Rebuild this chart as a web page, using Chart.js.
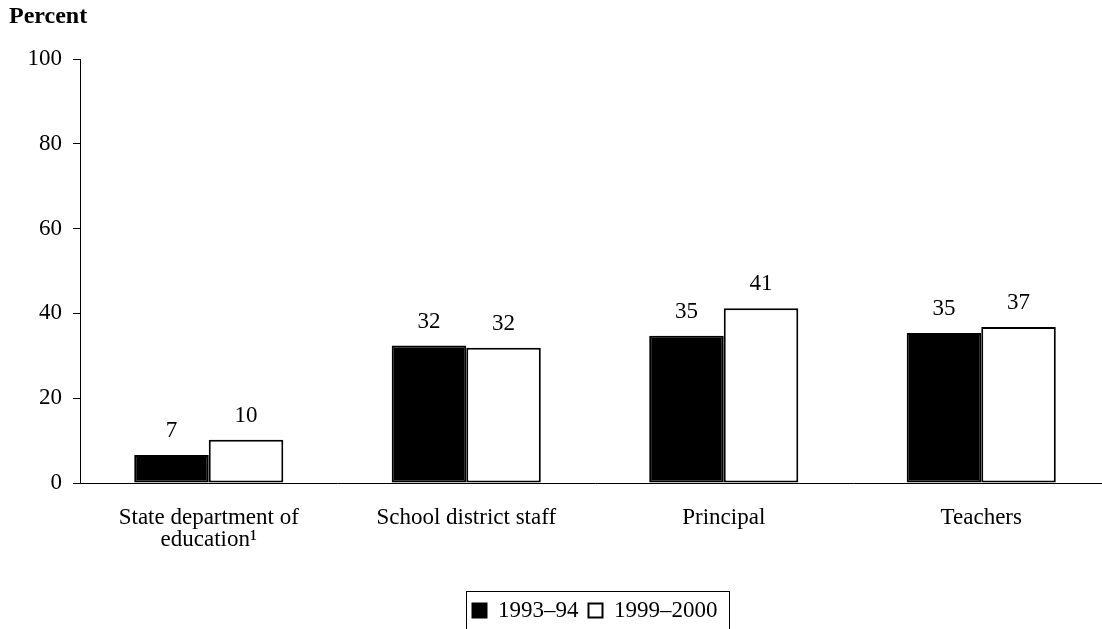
<!DOCTYPE html>
<html>
<head>
<meta charset="utf-8">
<script src="https://cdn.jsdelivr.net/npm/chart.js@4"></script>
<style>
  html, body { margin: 0; padding: 0; background: #fff; overflow: hidden; }
  #wrap { width: 1110px; height: 632px; position: relative; }
</style>
</head>
<body>
<div id="wrap"><canvas id="c"></canvas></div>
<script>
const categories = [['State department of', 'education\u00B9'], 'School district staff', 'Principal', 'Teachers'];
const series1Label = '1993\u201394';
const series2Label = '1999\u20132000';
const series1Values = [6.6, 32.4, 34.7, 35.4];
const series2Values = [10.2, 31.9, 41.2, 36.8];
const yTicks = [0, 20, 40, 60, 80, 100];

const FONT = 'Liberation Serif';
const FS = 23;
Chart.defaults.font.family = FONT;
Chart.defaults.color = '#000';

const valueLabels = {
  id: 'valueLabels',
  afterDatasetsDraw(chart) {
    const ctx = chart.ctx;
    ctx.save();
    ctx.font = FS + 'px "' + FONT + '"';
    ctx.fillStyle = '#000';
    ctx.textAlign = 'center';
    ctx.textBaseline = 'alphabetic';
    chart.data.datasets.forEach((ds, i) => {
      const meta = chart.getDatasetMeta(i);
      meta.data.forEach((bar, j) => {
        ctx.fillText(String(Math.round(ds.data[j])), bar.x, bar.y - 18);
      });
    });
    ctx.restore();
  }
};

const legendBorder = {
  id: 'legendBorder',
  afterDraw(chart) {
    const lg = chart.legend;
    if (!lg || !lg.legendHitBoxes || !lg.legendHitBoxes.length) return;
    const hb = lg.legendHitBoxes;
    let l = Infinity, r = -Infinity, t = Infinity;
    hb.forEach(h => {
      l = Math.min(l, h.left); r = Math.max(r, h.left + h.width);
      t = Math.min(t, h.top);
    });
    const ctx = chart.ctx;
    ctx.save();
    ctx.strokeStyle = '#000';
    ctx.lineWidth = 1;
    ctx.strokeRect(Math.round(l - 7) + 0.5, Math.round(t - 8) + 0.5, Math.round(r - l + 18), 60);
    ctx.restore();
  }
};

new Chart(document.getElementById('c'), {
  type: 'bar',
  data: {
    labels: categories,
    datasets: [
      { label: series1Label, data: series1Values, backgroundColor: '#000', borderColor: '#000', borderWidth: 2, borderSkipped: false },
      { label: series2Label, data: series2Values, backgroundColor: '#fff', borderColor: '#000', borderWidth: 2, borderSkipped: false }
    ]
  },
  options: {
    responsive: true,
    maintainAspectRatio: false,
    animation: false,
    layout: { padding: { left: 9, right: 0, top: 0, bottom: 0 } },
    datasets: { bar: { barPercentage: 1.0, categoryPercentage: 0.579 } },
    plugins: {
      title: {
        display: true,
        text: 'Percent',
        align: 'start',
        color: '#000',
        font: { family: FONT, size: 24, weight: 'bold' },
        padding: { top: 2, bottom: 28.2 }
      },
      legend: {
        position: 'bottom',
        fullSize: false,
        labels: {
          color: '#000',
          font: { family: FONT, size: FS },
          boxWidth: 14,
          boxHeight: 14,
          padding: 10,
          generateLabels(chart) {
            return chart.data.datasets.map((ds, i) => ({
              text: ds.label,
              fillStyle: ds.backgroundColor,
              strokeStyle: '#000',
              lineWidth: 2,
              hidden: false,
              datasetIndex: i
            }));
          }
        }
      },
      tooltip: { enabled: false }
    },
    scales: {
      x: {
        grid: { display: false, drawTicks: false },
        border: { display: true, color: '#000', width: 1 },
        ticks: { color: '#000', font: { family: FONT, size: FS, lineHeight: 0.96 }, padding: 24, maxRotation: 0, autoSkip: false },
        afterFit(scale) { scale.height = 106; }
      },
      y: {
        min: 0,
        max: 100,
        afterBuildTicks(scale) { scale.ticks = yTicks.map(v => ({ value: v })); },
        grid: { drawOnChartArea: false, drawTicks: true, tickLength: 7, color: '#000' },
        border: { display: true, color: '#000', width: 1 },
        ticks: { color: '#000', font: { family: FONT, size: FS }, padding: 11 },
        afterFit(scale) { scale.width = 71; }
      }
    }
  },
  plugins: [valueLabels, legendBorder]
});
</script>
</body>
</html>
